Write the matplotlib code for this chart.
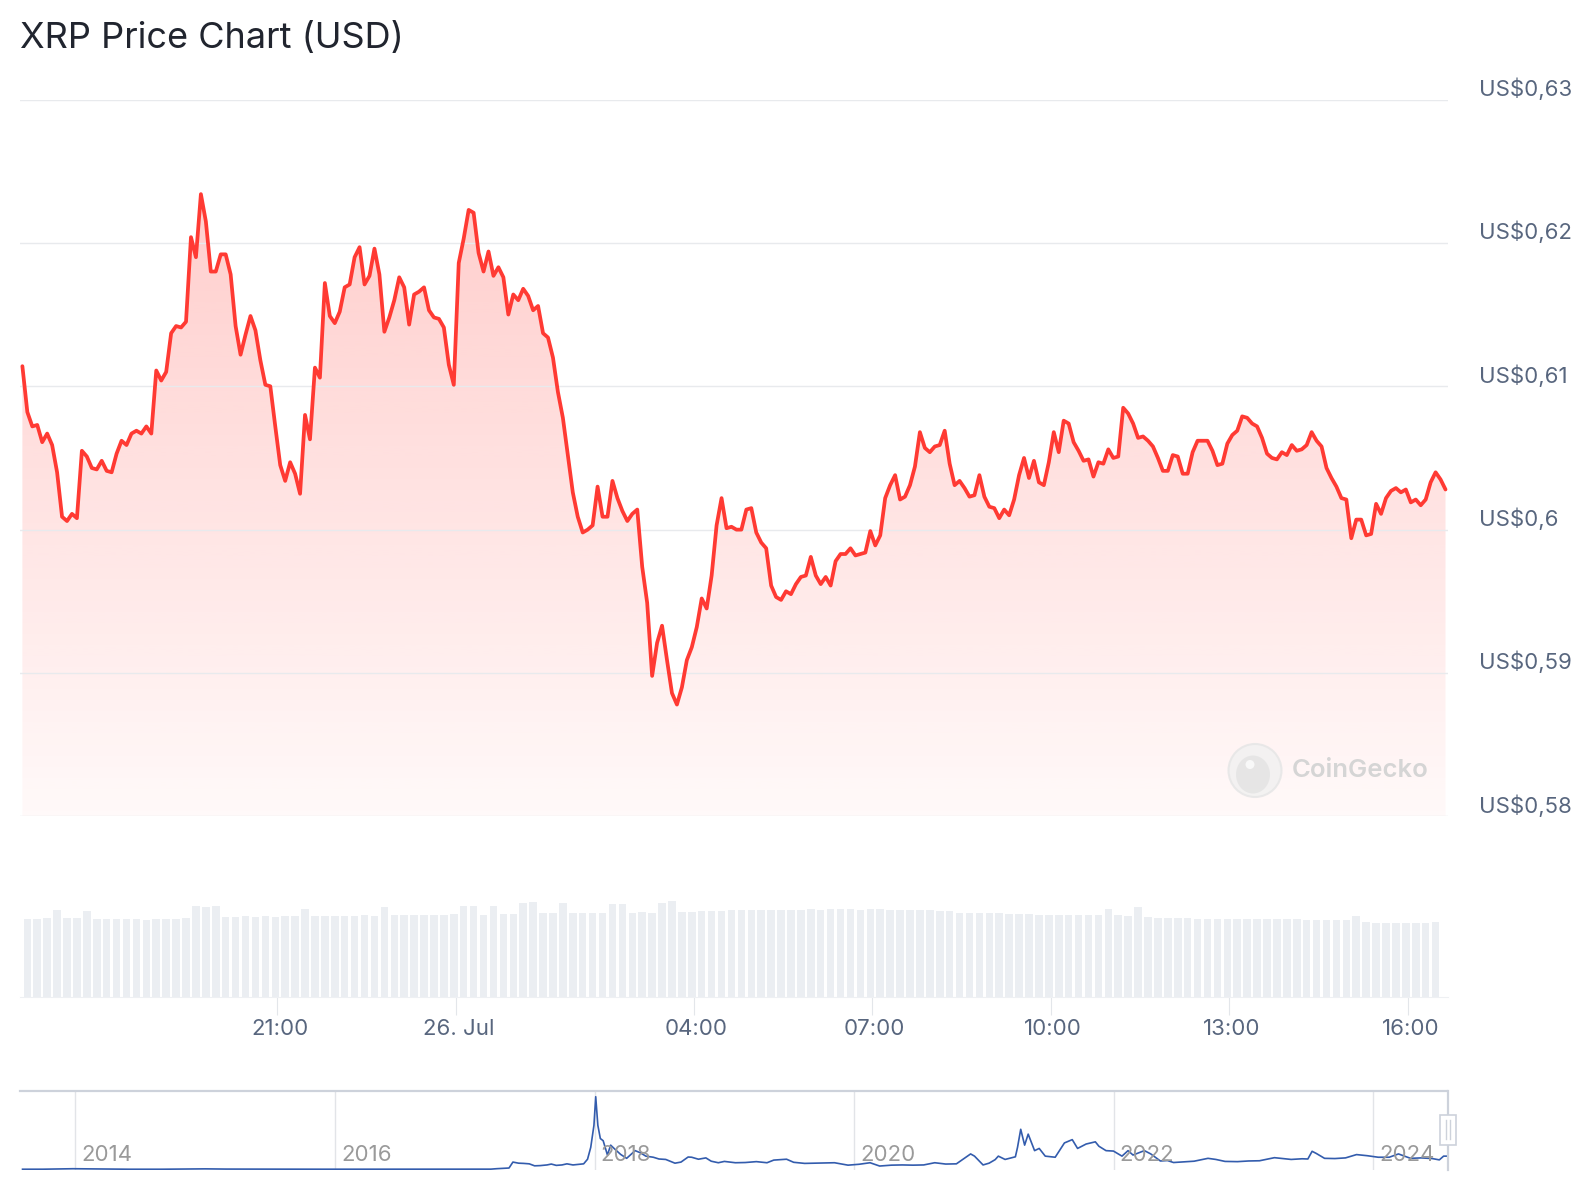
import matplotlib
matplotlib.use("Agg")
import matplotlib.pyplot as plt
import matplotlib.dates as mdates
from matplotlib.patches import Ellipse, Rectangle
from matplotlib.lines import Line2D
from matplotlib.transforms import ScaledTranslation
import numpy as np
import pandas as pd

plt.rcParams["font.family"] = ["Inter", "DejaVu Sans"]

title = "XRP Price Chart (USD)"

# 5-minute XRP price, 25 Jul 16:43 -> 26 Jul 16:38
price_start = "2024-07-25 16:43"
price = [
    0.6114, 0.6082, 0.6072, 0.6073, 0.6061, 0.6067, 0.6059, 0.6040, 0.6009, 0.6006,
    0.6011, 0.6008, 0.6055, 0.6051, 0.6043, 0.6042, 0.6048, 0.6041, 0.6040, 0.6053,
    0.6062, 0.6059, 0.6067, 0.6069, 0.6067, 0.6072, 0.6067, 0.6111, 0.6104, 0.6110,
    0.6137, 0.6142, 0.6141, 0.6145, 0.6204, 0.6190, 0.6234, 0.6215, 0.6180, 0.6180,
    0.6192, 0.6192, 0.6178, 0.6142, 0.6122, 0.6136, 0.6149, 0.6139, 0.6118, 0.6101,
    0.6100, 0.6072, 0.6045, 0.6034, 0.6047, 0.6039, 0.6025, 0.6080, 0.6063, 0.6113,
    0.6106, 0.6172, 0.6149, 0.6144, 0.6152, 0.6169, 0.6171, 0.6190, 0.6197, 0.6171,
    0.6177, 0.6196, 0.6178, 0.6138, 0.6148, 0.6160, 0.6176, 0.6169, 0.6143, 0.6164,
    0.6166, 0.6169, 0.6153, 0.6148, 0.6147, 0.6141, 0.6115, 0.6101, 0.6186, 0.6203,
    0.6223, 0.6221, 0.6193, 0.6180, 0.6194, 0.6177, 0.6183, 0.6176, 0.6150, 0.6164,
    0.6160, 0.6168, 0.6163, 0.6153, 0.6156, 0.6137, 0.6134, 0.6120, 0.6096, 0.6078,
    0.6052, 0.6026, 0.6009, 0.5998, 0.6000, 0.6003, 0.6030, 0.6009, 0.6009, 0.6034,
    0.6022, 0.6013, 0.6006, 0.6011, 0.6014,
    0.5974, 0.5949, 0.5898, 0.5921, 0.5933, 0.5909, 0.5886, 0.5878, 0.5890, 0.5909,
    0.5918, 0.5932, 0.5952, 0.5945, 0.5968, 0.6003, 0.6022, 0.6001, 0.6002, 0.6000,
    0.6000, 0.6014, 0.6015, 0.5998, 0.5991, 0.5987, 0.5961, 0.5953, 0.5951, 0.5957,
    0.5955, 0.5962, 0.5967, 0.5968, 0.5981, 0.5968, 0.5962, 0.5967, 0.5961, 0.5978,
    0.5983, 0.5983, 0.5987, 0.5982, 0.5983, 0.5984, 0.5999, 0.5989, 0.5996, 0.6022,
    0.6031, 0.6038,
    0.6021, 0.6023, 0.6031, 0.6044, 0.6068, 0.6057, 0.6054, 0.6058, 0.6059, 0.6069,
    0.6046, 0.6031, 0.6034, 0.6029, 0.6023, 0.6024, 0.6038, 0.6023, 0.6016, 0.6015,
    0.6008, 0.6014, 0.6010, 0.6021, 0.6038, 0.6050, 0.6036, 0.6048, 0.6033, 0.6031,
    0.6047, 0.6068, 0.6054, 0.6076, 0.6074, 0.6061, 0.6055, 0.6048, 0.6049, 0.6037,
    0.6047, 0.6046, 0.6056, 0.6050, 0.6051, 0.6085, 0.6081, 0.6074, 0.6064, 0.6065,
    0.6062, 0.6058, 0.6050, 0.6041, 0.6041, 0.6052, 0.6051, 0.6039, 0.6039, 0.6054,
    0.6062, 0.6062, 0.6062, 0.6055, 0.6045,
    0.6046, 0.6060, 0.6066, 0.6069, 0.6079, 0.6078, 0.6074, 0.6072, 0.6064, 0.6053,
    0.6050, 0.6049, 0.6054, 0.6052, 0.6059, 0.6055, 0.6056, 0.6059, 0.6068, 0.6062,
    0.6058, 0.6043, 0.6036, 0.6030, 0.6022, 0.6021, 0.5994, 0.6007, 0.6007, 0.5996,
    0.5997, 0.6018, 0.6011, 0.6022, 0.6027, 0.6029, 0.6026, 0.6028, 0.6019, 0.6021,
    0.6017, 0.6021, 0.6033, 0.6040, 0.6035, 0.6028,
]

# 24h volume (bn USD), 10-minute bars
volume_bn = [
    1.60, 1.60, 1.61, 1.78, 1.62, 1.61, 1.76, 1.60, 1.59, 1.59, 1.60, 1.59, 1.58, 1.59, 1.59, 1.60,
    1.62, 1.86, 1.85, 1.87, 1.64, 1.64, 1.65, 1.64, 1.66, 1.64, 1.65, 1.65, 1.80, 1.66, 1.65, 1.66,
    1.65, 1.66, 1.67, 1.66, 1.85, 1.67,
    1.68, 1.68, 1.69, 1.68, 1.69, 1.70, 1.87, 1.86, 1.69, 1.87, 1.70, 1.70, 1.93,
    1.94, 1.72, 1.72, 1.92, 1.72, 1.73, 1.72, 1.73, 1.91, 1.91, 1.73, 1.74, 1.73, 1.92, 1.96, 1.75,
    1.75, 1.76, 1.76, 1.77,
    1.78, 1.78, 1.79, 1.78, 1.79, 1.78, 1.79, 1.79, 1.80, 1.79, 1.80, 1.80, 1.80, 1.79, 1.80, 1.80,
    1.79, 1.79, 1.79, 1.78, 1.78, 1.77, 1.76,
    1.73, 1.73, 1.72, 1.72, 1.72, 1.71, 1.70, 1.70, 1.69, 1.69, 1.69, 1.68, 1.68, 1.68, 1.67, 1.80, 1.67,
    1.65, 1.84, 1.63, 1.62, 1.61, 1.61, 1.61, 1.60, 1.60, 1.60, 1.60, 1.60, 1.59, 1.59, 1.60, 1.59,
    1.59, 1.59, 1.58, 1.58, 1.58, 1.58, 1.58,
    1.66, 1.53, 1.52, 1.52, 1.52, 1.51, 1.51, 1.52, 1.53,
]

price_ticks = [0.58, 0.59, 0.60, 0.61, 0.62, 0.63]
price_tick_labels = ["US$0,58", "US$0,59", "US$0,6", "US$0,61", "US$0,62", "US$0,63"]

time_ticks = ["2024-07-25 21:00", "2024-07-26 00:00", "2024-07-26 04:00", "2024-07-26 07:00",
              "2024-07-26 10:00", "2024-07-26 13:00", "2024-07-26 16:00"]
time_tick_labels = ["21:00", "26. Jul", "04:00", "07:00", "10:00", "13:00", "16:00"]

# navigator: full XRP history
nav_dates = [
    "2013-08-05", "2013-10-01", "2013-12-01", "2013-12-25", "2014-02-01", "2014-04-01", "2014-06-01",
    "2014-09-01", "2014-12-01", "2015-01-01", "2015-03-01", "2015-06-01", "2015-09-01", "2015-12-01",
    "2016-03-01", "2016-06-01", "2016-09-01", "2016-12-01", "2017-02-01", "2017-03-15", "2017-04-01",
    "2017-05-05", "2017-05-16", "2017-06-01", "2017-06-15", "2017-07-01", "2017-07-16", "2017-08-01",
    "2017-08-20", "2017-09-01", "2017-09-15", "2017-10-01", "2017-10-15", "2017-11-01", "2017-11-20",
    "2017-12-01", "2017-12-12", "2017-12-21", "2017-12-30", "2018-01-04", "2018-01-10", "2018-01-17",
    "2018-01-25", "2018-02-06", "2018-02-15", "2018-02-28", "2018-03-15", "2018-04-01", "2018-04-25",
    "2018-05-10", "2018-05-25", "2018-06-15", "2018-07-01", "2018-07-20", "2018-08-15", "2018-09-01",
    "2018-09-21", "2018-10-01", "2018-10-20", "2018-11-10", "2018-11-25", "2018-12-15", "2019-01-01",
    "2019-02-01", "2019-03-01", "2019-04-01", "2019-05-01", "2019-05-20", "2019-06-25", "2019-07-15",
    "2019-08-15", "2019-09-15", "2019-10-15", "2019-11-07", "2019-12-15", "2020-01-15", "2020-02-15",
    "2020-03-13", "2020-04-15", "2020-05-15", "2020-06-15", "2020-07-15", "2020-08-15", "2020-09-15",
    "2020-10-15", "2020-11-24", "2020-12-05", "2020-12-29", "2021-01-15", "2021-02-01", "2021-02-10",
    "2021-03-01", "2021-03-30", "2021-04-05", "2021-04-14", "2021-04-25", "2021-05-05", "2021-05-23",
    "2021-06-05", "2021-06-22", "2021-07-20", "2021-08-15", "2021-09-06", "2021-09-21", "2021-10-15",
    "2021-11-10", "2021-11-20", "2021-12-10", "2021-12-31", "2022-01-24", "2022-02-10", "2022-02-24",
    "2022-03-28", "2022-04-15", "2022-05-12", "2022-06-01", "2022-06-18", "2022-07-15", "2022-08-15",
    "2022-09-23", "2022-10-15", "2022-11-10", "2022-12-15", "2023-01-15", "2023-02-15", "2023-03-29",
    "2023-04-15", "2023-05-15", "2023-06-15", "2023-07-01", "2023-07-13", "2023-07-25", "2023-08-17",
    "2023-09-15", "2023-10-15", "2023-11-15", "2023-12-15", "2024-01-15", "2024-02-15", "2024-03-12",
    "2024-04-15", "2024-05-15", "2024-06-15", "2024-07-05", "2024-07-17", "2024-07-26",
]
nav_prices = [
    0.005, 0.006, 0.020, 0.028, 0.022, 0.008, 0.005,
    0.005, 0.018, 0.022, 0.012, 0.009, 0.008, 0.006,
    0.007, 0.006, 0.007, 0.0065, 0.007, 0.009, 0.030,
    0.06, 0.33, 0.28, 0.27, 0.25, 0.16, 0.17,
    0.20, 0.24, 0.18, 0.20, 0.25, 0.20, 0.23,
    0.25, 0.46, 1.00, 2.00, 3.30, 2.00, 1.40,
    1.30, 0.65, 1.10, 0.90, 0.68, 0.50, 0.85,
    0.75, 0.60, 0.55, 0.47, 0.45, 0.28, 0.33,
    0.56, 0.55, 0.46, 0.52, 0.37, 0.30, 0.36,
    0.30, 0.31, 0.35, 0.30, 0.42, 0.46, 0.32,
    0.27, 0.28, 0.29, 0.30, 0.19, 0.23, 0.30,
    0.15, 0.19, 0.20, 0.19, 0.20, 0.30, 0.24,
    0.25, 0.70, 0.60, 0.20, 0.28, 0.44, 0.60,
    0.45, 0.57, 1.00, 1.82, 1.10, 1.60, 0.85,
    0.95, 0.60, 0.55, 1.20, 1.35, 0.95, 1.15,
    1.25, 1.05, 0.85, 0.83, 0.60, 0.85, 0.65,
    0.85, 0.70, 0.38, 0.40, 0.31, 0.34, 0.37,
    0.50, 0.45, 0.36, 0.35, 0.38, 0.39, 0.53,
    0.50, 0.45, 0.48, 0.47, 0.82, 0.72, 0.50,
    0.49, 0.52, 0.67, 0.62, 0.55, 0.55, 0.70,
    0.50, 0.52, 0.49, 0.43, 0.60, 0.60,
]
nav_years = [2014, 2016, 2018, 2020, 2022, 2024]

W, H = 1596, 1200
fig = plt.figure(figsize=(W / 100, H / 100), dpi=100)


def box(x0, y0, x1, y1):
    return [x0 / W, 1 - y1 / H, (x1 - x0) / W, (y1 - y0) / H]


ax = fig.add_axes(box(20.4, 99.5, 1447.5, 816.4))
axv = fig.add_axes(box(20.4, 880, 1447.5, 996.7), sharex=ax)
axn = fig.add_axes(box(20.4, 1091, 1447.5, 1170))

tick_grey = "#58667e"
grid_col = "#e8eaed"

# ---- price pane ----
t = pd.date_range(price_start, periods=len(price), freq="5min")
x = mdates.date2num(t)
ax.plot(x, price, color="#ff3a33", lw=2.7, solid_joinstyle="round", solid_capstyle="round", zorder=3)
poly = ax.fill_between(x, price, 0.58, color="none", lw=0)

grad = np.linspace(1, 0, 256)
rgba = np.zeros((256, 1, 4))
rgba[..., 0] = 1.0
rgba[..., 1] = 58 / 255
rgba[..., 2] = 51 / 255
rgba[..., 3] = (0.03 + 0.22 * grad)[:, None]
im = ax.imshow(rgba, aspect="auto", extent=[x[0], x[-1], 0.58, max(price)],
               origin="upper", zorder=1, interpolation="bilinear")
im.set_clip_path(poly.get_paths()[0], transform=ax.transData)

pad = pd.Timedelta(minutes=2)
xlim = (mdates.date2num(t[0] - pad), mdates.date2num(t[-1] + pad))
ax.set_xlim(xlim)
ax.set_ylim(0.58, 0.63)
ax.set_yticks(price_ticks)
ax.set_yticklabels(price_tick_labels)
ax.set_axisbelow(False)
ax.grid(axis="y", color=grid_col, lw=1.0)
ax.yaxis.tick_right()
ax.tick_params(axis="y", length=0, pad=22.7, labelsize=16, labelcolor=tick_grey)
ax.tick_params(axis="x", length=0, labelbottom=False)
for lab in ax.get_yticklabels():
    lab.set_transform(lab.get_transform() + ScaledTranslation(0, 0.13, fig.dpi_scale_trans))
for s in ax.spines.values():
    s.set_visible(False)

# ---- volume pane ----
tv = pd.date_range(price_start, periods=len(volume_bn), freq="10min")
xv = mdates.date2num(tv) + (5 / 1440)
axv.bar(xv, volume_bn, width=7.6 / 1440, color="#ebeef2", lw=0)
axv.set_ylim(0, 2.4)
axv.set_yticks([])
for s in axv.spines.values():
    s.set_visible(False)
axv.spines["bottom"].set_visible(True)
axv.spines["bottom"].set_color("#eef0f3")
axv.set_xticks(mdates.date2num(pd.to_datetime(time_ticks)))
axv.set_xticklabels(time_tick_labels)
axv.tick_params(axis="x", length=13, width=0.8, color="#e3e6ea", pad=3,
                labelsize=16, labelcolor=tick_grey)
for lab in axv.get_xticklabels():
    lab.set_transform(lab.get_transform() + ScaledTranslation(0.025, 0, fig.dpi_scale_trans))
ax.set_xlim(xlim)

# ---- navigator ----
nd = pd.to_datetime(nav_dates)
axn.plot(nd, nav_prices, color="#335cad", lw=1.2)
axn.set_xlim(pd.Timestamp("2013-07-30"), pd.Timestamp("2024-07-28"))
axn.set_ylim(-0.03, 3.56)
year_x = pd.to_datetime([f"{y}-01-01" for y in nav_years])
axn.set_xticks(year_x)
axn.set_xticklabels([])
axn.set_yticks([])
axn.tick_params(axis="x", length=0)
axn.grid(axis="x", color="#e2e4e8", lw=1.0)
for yx, yl in zip(year_x, nav_years):
    txt = axn.text(yx, 0.19, str(yl), ha="left", va="center", fontsize=16, color="#9a9a9a", zorder=4)
    txt.set_transform(axn.get_xaxis_transform() + ScaledTranslation(0.06, 0, fig.dpi_scale_trans))
for side in ["left", "bottom"]:
    axn.spines[side].set_visible(False)
for side in ["top", "right"]:
    axn.spines[side].set_color("#cdd2db")
    axn.spines[side].set_linewidth(1.6)

# navigator handle
fig.add_artist(Rectangle((1439.5 / W, 1 - 1145 / H), 16 / W, 30 / H, transform=fig.transFigure,
                         fc="#ffffff", ec="#cdd2db", lw=1.2, zorder=5))
for hx in (1445.5, 1449.5):
    fig.add_artist(Line2D([hx / W, hx / W], [1 - 1139 / H, 1 - 1120 / H], transform=fig.transFigure,
                          color="#cdd2db", lw=1.0, zorder=6))

# ---- watermark ----
cx, cy = 1255 / W, 1 - 770.5 / H
fig.add_artist(Ellipse((cx, cy), 53 / W, 53 / H, transform=fig.transFigure,
                       fc="#f1f1f1", ec="#e6e6e6", lw=1.5, alpha=0.85, zorder=4))
fig.add_artist(Ellipse((cx - 2 / W, cy - 4 / H), 34 / W, 38 / H, transform=fig.transFigure,
                       fc="#e4e4e4", ec="none", alpha=0.85, zorder=4))
fig.add_artist(Ellipse((cx - 5 / W, cy + 6 / H), 9 / W, 9 / H, transform=fig.transFigure,
                       fc="#f8f8f8", ec="none", zorder=4))
fig.text(1292 / W, cy, "CoinGecko", fontsize=18.5, fontweight="semibold", color="#d5d5d5",
         ha="left", va="center", zorder=4)

# ---- title ----
fig.text(20.4 / W, 1 - 48 / H, title, fontsize=26, color="#21252f", ha="left", va="baseline")

fig.savefig("out.png", dpi=100)
